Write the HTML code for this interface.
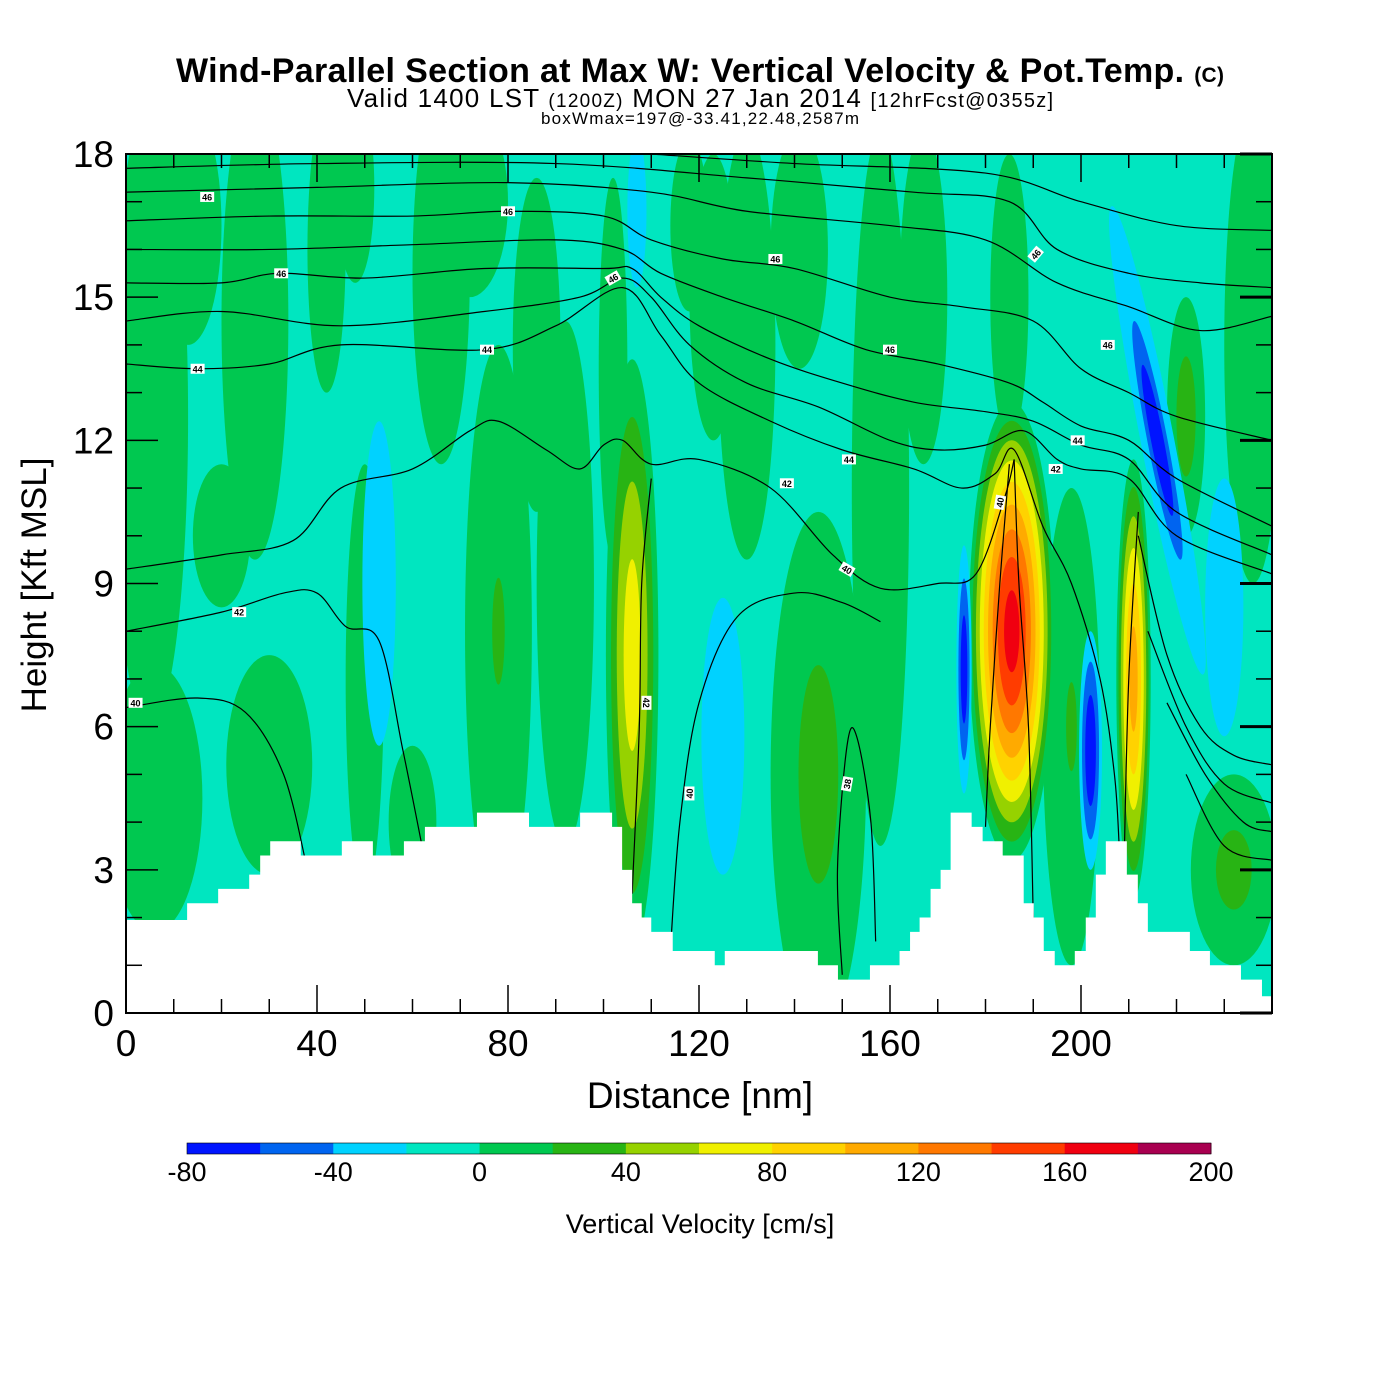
<!DOCTYPE html>
<html><head><meta charset="utf-8"><style>
html,body{margin:0;padding:0;background:#fff}
svg{display:block}
text{font-family:"Liberation Sans",Arial,sans-serif}
</style></head><body>
<svg id="chart" width="1400" height="1400" viewBox="0 0 1400 1400" xmlns="http://www.w3.org/2000/svg">
<defs><clipPath id="pc"><rect x="126" y="154" width="1146" height="859"/></clipPath></defs>
<g>
<text x="700" y="82" font-size="34" font-weight="bold" text-anchor="middle" textLength="1048">Wind-Parallel Section at Max W: Vertical Velocity &amp; Pot.Temp. <tspan font-size="21">(C)</tspan></text>
<text x="700" y="107" font-size="26" text-anchor="middle" textLength="706">Valid 1400 LST <tspan font-size="19">(1200Z)</tspan> MON 27 Jan 2014 <tspan font-size="20">[12hrFcst@0355z]</tspan></text>
<text x="700" y="124" font-size="17" text-anchor="middle" textLength="318">boxWmax=197@-33.41,22.48,2587m</text>
</g>
<rect x="126" y="154" width="1146" height="859" fill="#00e6c0"/>
<g id="fill" clip-path="url(#pc)"></g>
<g id="lines" clip-path="url(#pc)"></g>
<g id="terrain" clip-path="url(#pc)"></g>
<g id="labels"></g>
<rect x="126" y="154" width="1146" height="859" fill="none" stroke="#000" stroke-width="2"/>
<g id="axes"></g>
<text x="700" y="1108" font-size="37" text-anchor="middle">Distance [nm]</text>
<text transform="translate(46,585) rotate(-90)" font-size="35" text-anchor="middle">Height [Kft MSL]</text>
<g id="cbar"></g>
<text x="700" y="1233" font-size="27" text-anchor="middle">Vertical Velocity [cm/s]</text>
</svg>
<script>
// ---- data ----
const levels = [-80,-60,-40,-20,0,20,40,60,80,100,120,140,160,180,200];
const levelColors = ["#0014ff","#0064f0","#00d2ff","#00e6c0","#00c850","#28b414","#96d200","#f0f000","#ffd200","#ffaa00","#ff7800","#ff3c00","#f00010","#a80050"];
const cbarTicks = [-80,-40,0,40,80,120,160,200];
const xTicks = [0,40,80,120,160,200];
const yTicks = [0,3,6,9,12,15,18];
// blobs: x(nm), y(kft), rx(nm), ry(kft), peak (cm/s), tilt(deg)
const upBlobs = [
 [5,12.5,8,6.5,18,0],[13,16.5,7,2.5,15,0],[27,14.5,7,5,15,0],[42,16,4,3,15,0],[48,17.3,4,2,15,0],
 [66,15.5,6,4,15,0],[72,17,8,2,15,0],
 [78,8,7,6,22,0],[92,9,6,5.5,18,0],[6,4.5,10,2.8,18,0],[30,5.2,9,2.3,15,0],[50,7,4,4.5,18,0],
 [102,13.5,3,4,15,0],[130,14,6,4.5,15,0],
 [145,5,10,5.5,28,0],[158,11,6,7.5,15,0],[141,16,6,2.5,15,0],[123,15,5,3,15,0],[167,15,5,3.5,15,0],
 [185,15,4,3,15,0],[198,6,6,5,22,0],[232,3,9,2,28,0],[236,14,6,5,20,0],[222,12.5,4,2.5,32,0],
 [86,14,5,3.5,15,0],[118,16.5,4,1.8,15,0],[60,4,5,1.6,15,0],[20,10,6,1.5,15,0],
 [106,7.5,5.5,6.2,75,0],[185.5,8,9,4.8,175,0],[211,7,3.6,4.6,115,0]
];
const downBlobs = [
 [53,9,3.5,3.4,-33,0],[125,5.8,4.5,2.9,-36,0],[107,16.8,2,1.6,-30,0],[202,5.5,2.4,2.5,-65,0],
 [175.5,7.2,1.6,2.6,-62,0],[216,12,3.5,5,-24,-11],[216,12,2.8,3.4,-66,-11],[230,8.5,4,2.7,-30,0]
];
// terrain steps [nm, kft]
const terrain = [[0,1.95],[12.8,2.3],[19.3,2.6],[25.8,2.9],[28.1,3.3],[30.2,3.6],[36.6,3.3],[45.2,3.6],[51.7,3.3],[58.2,3.6],[62.6,3.9],[73.5,4.2],[84.4,3.9],[95.1,4.2],[101.8,3.9],[103.9,3.0],[106,2.3],[108,2.0],[110,1.7],[114.5,1.3],[123.3,1.0],[125.4,1.3],[144.9,1.0],[149.1,0.7],[155.8,1.0],[162,1.3],[164.2,1.7],[166.2,2.0],[168.5,2.6],[170.6,3.0],[172.7,4.2],[177.1,3.9],[179.4,3.6],[183.6,3.3],[188,2.3],[190.1,2.0],[192.2,1.3],[194.5,1.0],[198.7,1.3],[201,2.0],[203.1,2.9],[205.2,3.6],[209.6,2.9],[211.9,2.3],[214,1.7],[222.8,1.3],[227,1.0],[233.5,0.7],[237.9,0.35]];
// theta contour lines [nm, kft]
const thetaLines = [
 [[0,6.4],[15,6.6],[25,6.3],[33,5],[38,3]],
 [[0,8.0],[20,8.4],[33,8.8],[40,8.8],[46,8.1],[53,7.8],[58,5.5],[62,3.5]],
 [[0,9.3],[20,9.6],[35,9.9],[45,11.0],[60,11.4],[72,12.2],[78,12.4],[88,11.8],[95,11.4],[100,11.9],[104,12.0],[110,11.5],[120,11.6],[135,11.0],[148,9.6],[158,8.9],[170,9.0],[178,9.2],[184,10.8],[186,11.6]],
 [[0,13.6],[15,13.5],[30,13.6],[45,14.0],[75,13.9],[90,14.4],[104,15.2],[112,14.2],[120,13.2],[135,12.4],[150,11.8],[165,11.4],[175,11.0],[182,11.3],[186,11.8],[192,10.2],[198,9.0],[204,7.0],[207,5],[208,3.5]],
 [[0,14.5],[20,14.7],[45,14.4],[75,14.7],[95,15.0],[104,15.4],[110,15.0],[118,14.0],[130,13.2],[145,12.7],[160,12.0],[170,11.8],[180,11.9],[188,12.2],[195,11.6],[200,11.4],[210,11.2],[220,10.0],[240,9.2]],
 [[0,15.3],[20,15.3],[32,15.5],[50,15.4],[75,15.6],[100,15.6],[106,15.6],[112,15.0],[120,14.4],[135,13.7],[150,13.2],[165,12.8],[180,12.6],[190,12.4],[200,11.9],[210,11.6],[220,10.5],[240,9.6]],
 [[0,16.0],[30,16.0],[60,16.1],[90,16.2],[104,16.0],[112,15.5],[125,15.0],[140,14.5],[155,13.9],[170,13.6],[185,13.2],[192,12.8],[200,12.3],[210,12.0],[220,11.2],[240,10.2]],
 [[0,16.6],[30,16.7],[60,16.7],[80,16.8],[100,16.7],[110,16.2],[125,15.8],[140,15.6],[160,15.0],[175,14.8],[190,14.5],[200,13.5],[210,13.0],[220,12.5],[240,12.0]],
 [[0,17.2],[40,17.3],[80,17.4],[110,17.2],[130,16.8],[160,16.5],[180,16.2],[195,15.3],[210,14.8],[225,14.3],[240,14.6]],
 [[0,17.7],[40,17.8],[90,17.8],[130,17.5],[165,17.2],[185,17.0],[195,16.0],[210,15.5],[225,15.3],[240,15.2]],
 [[110,18],[140,17.8],[180,17.6],[200,17.0],[220,16.5],[240,16.4]],
 [[212,10],[218,7.5],[225,6],[232,5.4],[240,5.2]],
 [[214,8],[222,6],[230,4.8],[240,4.4]],
 [[218,6.5],[226,5],[234,4],[240,3.8]],
 [[222,5],[230,3.5],[240,3.2]],
 [[114,1.3],[116,4],[120,6.5],[128,8.3],[140,8.8],[150,8.6],[158,8.2]],
 [[106,2.5],[107.5,6],[108,9],[110,11.2]],
 [[150,0.8],[149,3],[151,5.6],[153,5.8],[156,4],[157,1.5]],
 [[180,3.9],[181,6],[183,9],[185,11.5]],
 [[190,2],[189,6],[187,9],[186,11.6]],
 [[209,3],[210,7],[212,10.5]]
];
const labelText = ["46","46","46","46","46","46","46","46","44","44","44","44","42","42","42","42","40","40","40","40","38"];
const labelX = [17,80,32.5,102,136,190.5,160,205.6,15,75.6,151.4,199.3,194.7,138.4,23.7,109,151,2,183,118,151];
const labelY = [17.1,16.8,15.5,15.4,15.8,15.9,13.9,14.0,13.5,13.9,11.6,12.0,11.4,11.1,8.4,6.5,9.3,6.5,10.7,4.6,4.8];
const labelRot = [0,0,0,-30,0,-50,0,0,0,0,0,0,0,0,0,90,30,0,-80,-90,-80];

// ---- scales ----
const X0=126,X1=1272,Y0=1013,Y1=154;
const sx = v => X0 + v*(X1-X0)/240;
const sy = v => Y0 - v*(Y0-Y1)/18;
const NS="http://www.w3.org/2000/svg";
function mk(tag, parent, attrs){const e=document.createElementNS(NS,tag);for(const k in attrs)e.setAttribute(k,attrs[k]);parent.appendChild(e);return e;}
function colorFor(v){for(let i=0;i<levelColors.length;i++){if(v<levels[i+1])return levelColors[i];}return levelColors[levelColors.length-1];}

// ---- fill ----
const fill=document.getElementById('fill');
function drawBlob(b, positive){
 const [x,y,rx,ry,peak,tilt]=b;
 const cx=sx(x), cy=sy(y), prx=rx*(X1-X0)/240, pry=ry*(Y0-Y1)/18;
 const ths=[];
 if(positive){for(let t=0;t<peak;t+=20)ths.push(t);}else{for(let t=-20;t>peak;t-=20)ths.push(t);}
 ths.forEach(t=>{
  const s=positive?Math.pow(1-t/peak,0.7):Math.pow(1-(t+20)/peak,0.8);
  const e=mk('ellipse',fill,{cx:cx,cy:cy,rx:prx*s,ry:pry*s,fill:colorFor(positive?t+1:t-1),transform:'rotate('+tilt+' '+cx+' '+cy+')'});
  
  
 });
}
upBlobs.forEach(b=>drawBlob(b,true));
downBlobs.forEach(b=>drawBlob(b,false));

// ---- contour lines ----
const lg=document.getElementById('lines');
function smooth(pts){
 let d='M'+pts[0][0]+','+pts[0][1];
 for(let i=0;i<pts.length-1;i++){
  const p0=pts[i-1]||pts[i],p1=pts[i],p2=pts[i+1],p3=pts[i+2]||p2;
  const c1=[p1[0]+(p2[0]-p0[0])/6,p1[1]+(p2[1]-p0[1])/6],c2=[p2[0]-(p3[0]-p1[0])/6,p2[1]-(p3[1]-p1[1])/6];
  d+=' C'+c1+' '+c2+' '+p2;
 }
 return d;
}
thetaLines.forEach(l=>{
 const p=mk('path',lg,{d:smooth(l.map(q=>[sx(q[0]),sy(q[1])])),fill:'none',stroke:'#000','stroke-width':1.2});
 
 
});

// ---- terrain ----
const tg=document.getElementById('terrain');
let td='M'+sx(0)+','+sy(0);
terrain.forEach((s,i)=>{const xe=i+1<terrain.length?terrain[i+1][0]:240;td+=' L'+sx(s[0])+','+sy(s[1])+' L'+sx(xe)+','+sy(s[1]);});
td+=' L'+sx(240)+','+sy(0)+' Z';
const tp=mk('path',tg,{d:td,fill:'#fff',stroke:'none'});



// ---- contour labels ----
const lb=document.getElementById('labels');
labelText.forEach((t,i)=>{
 const g=mk('g',lb,{transform:'translate('+sx(labelX[i])+','+sy(labelY[i])+') rotate('+labelRot[i]+')'});
 
 
 mk('rect',g,{x:-7,y:-5,width:14,height:10,fill:'#fff'});
 const tx=mk('text',g,{x:0,y:3.5,'font-size':9,'text-anchor':'middle','font-weight':'bold'});tx.textContent=t;
});

// ---- axes ----
const ax=document.getElementById('axes');
for(let v=0;v<=240;v+=10){
 const major=v%40===0,L=major?28:14;
 const t1=mk('line',ax,{x1:sx(v),x2:sx(v),y1:Y0,y2:Y0-L,stroke:'#000','stroke-width':1.5});
 
 
 mk('line',ax,{x1:sx(v),x2:sx(v),y1:Y1,y2:Y1+L,stroke:'#000','stroke-width':1.5});
}
for(let v=0;v<=18;v+=1){
 const major=v%3===0,L=major?32:16;
 const t2=mk('line',ax,{x1:X0,x2:X0+L,y1:sy(v),y2:sy(v),stroke:'#000','stroke-width':1.5});
 
 
 mk('line',ax,{x1:X1,x2:X1-L,y1:sy(v),y2:sy(v),stroke:'#000','stroke-width':major?3:1.5});
}
xTicks.forEach(v=>{const t=mk('text',ax,{x:sx(v),y:1056,'font-size':37,'text-anchor':'middle'});t.textContent=v;
 
 });
yTicks.forEach(v=>{const t=mk('text',ax,{x:114,y:sy(v)+13,'font-size':37,'text-anchor':'end'});t.textContent=v;
 
 });

// ---- colorbar ----
const cb=document.getElementById('cbar');
const CB0=187,CB1=1211,cw=(CB1-CB0)/levelColors.length;
const cbx=v=>CB0+(v-levels[0])*(CB1-CB0)/(levels[levels.length-1]-levels[0]);
levelColors.forEach((c,i)=>{const r=mk('rect',cb,{x:CB0+i*cw,y:1143,width:cw+0.5,height:11,fill:c});
 
 });
mk('rect',cb,{x:CB0,y:1143,width:CB1-CB0,height:11,fill:'none',stroke:'#000','stroke-width':0.6});
cbarTicks.forEach(v=>{const t=mk('text',cb,{x:cbx(v),y:1181,'font-size':27,'text-anchor':'middle'});t.textContent=v;
 
 });
</script>
</body></html>
